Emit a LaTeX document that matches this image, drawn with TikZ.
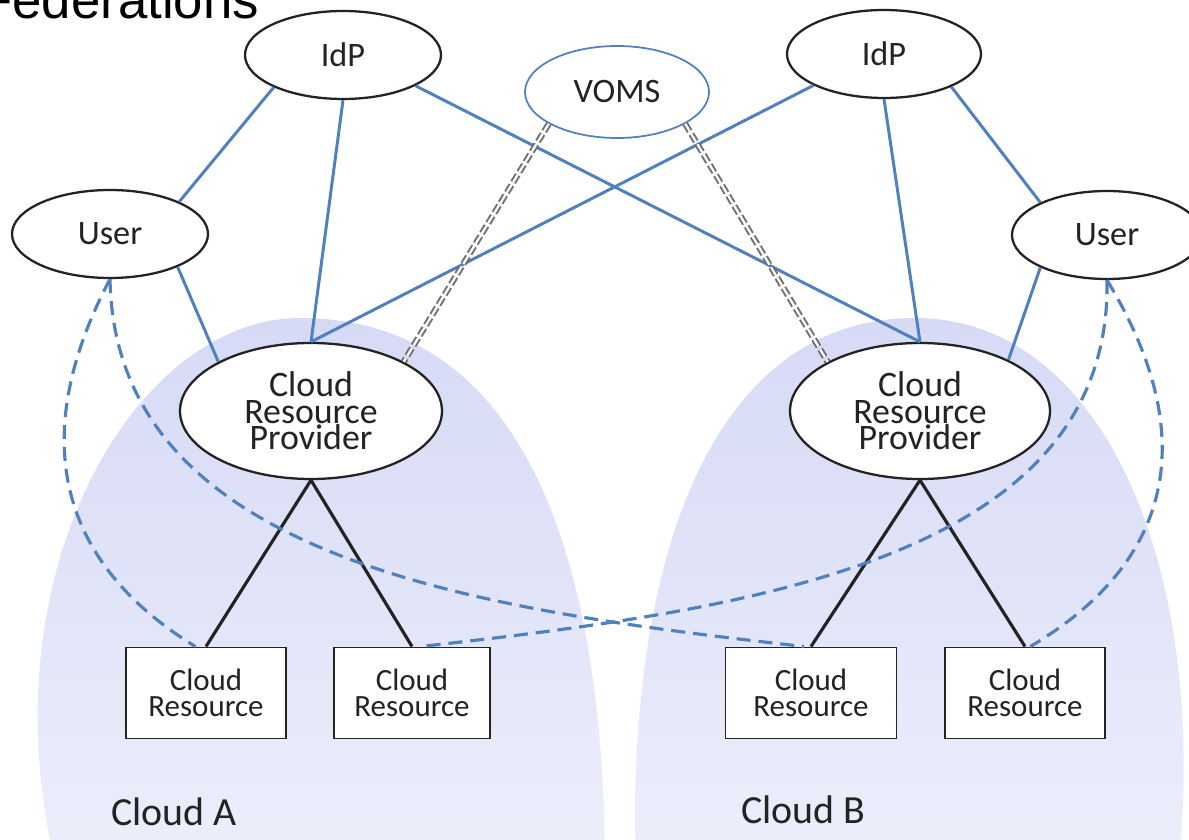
\documentclass[tikz,border=0pt]{standalone}
\usepackage{xcolor}
\usepackage{fontspec}
\setmainfont{Carlito}
\newfontfamily\titlefont{Liberation Sans}
\definecolor{Ink}{RGB}{35,35,35}
\definecolor{Steel}{RGB}{79,129,189}
\definecolor{Slate}{RGB}{110,110,110}
\definecolor{CloudTop}{RGB}{214,218,245}
\definecolor{CloudBottom}{RGB}{236,238,251}
\definecolor{White}{RGB}{255,255,255}
\usepackage{tikz}
\usetikzlibrary{shapes.geometric}

\tikzset{
	oval/.style={ellipse, draw=Ink, line width=1.3pt, fill=White, inner sep=0pt, text=Ink,
		minimum width=39.2mm, minimum height=17.6mm, font=\fontsize{19.5}{20}\selectfont},
	provider/.style={oval, minimum width=52.4mm, minimum height=27.2mm, align=center,
		font=\fontsize{20.4}{15}\selectfont},
	resbox/.style={rectangle, draw=Ink, line width=1.1pt, fill=White, inner sep=0pt, text=Ink,
		minimum width=32mm, minimum height=18.2mm, align=center, font=\fontsize{17.6}{15}\selectfont},
	fedline/.style={draw=Steel, line width=1.7pt},
	vomsline/.style={draw=Slate, double=White, double distance=1.3pt, line width=1.1pt, dash pattern=on 5pt off 1.8pt},
	treeline/.style={draw=Ink, line width=1.8pt},
	accline/.style={draw=Steel, line width=1.8pt, dash pattern=on 8pt off 4.5pt},
}

\begin{document}
\begin{tikzpicture}[x=0.2mm, y=-0.2mm]

		\useasboundingbox (0,0) rectangle (1189,840);
		\clip (0,0) rectangle (1189,840);

		% Clouds
		\shade[top color=CloudTop, bottom color=CloudBottom] (52,850) .. controls (-10,560) and (140,318) .. (300,318) .. controls (495,318) and (600,500) .. (605,850) -- cycle;
		\shade[top color=CloudTop, bottom color=CloudBottom] (635,850) .. controls (630,520) and (730,318) .. (915,318) .. controls (1100,318) and (1205,560) .. (1180,850) -- cycle;

		% Title
		\node[anchor=base west, inner sep=0pt, font=\titlefont\fontsize{30}{30}\selectfont] (title) at (-20,19) {Federations};

		% Identity side
		\node[oval] (idpA) at (343,55) {IdP};
		\node[oval, minimum width=38.8mm] (idpB) at (884,54) {IdP};
		\node[oval, draw=Steel, line width=1pt, minimum width=36.8mm, minimum height=18.4mm] (voms) at (617,92) {VOMS};
		\node[oval] (userA) at (110,234) {User};
		\node[oval, minimum width=38mm] (userB) at (1107,235) {User};

		% Providers
		\node[provider] (crpA) at (311,411) {Cloud\\Resource\\Provider};
		\node[provider, minimum width=52mm] (crpB) at (920,411) {Cloud\\Resource\\Provider};

		% Resources
		\node[resbox] (resA1) at (206,693) {Cloud\\Resource};
		\node[resbox, minimum width=31.2mm] (resA2) at (412,693) {Cloud\\Resource};
		\node[resbox, minimum width=34.2mm] (resB1) at (811,693) {Cloud\\Resource};
		\node[resbox] (resB2) at (1025,693) {Cloud\\Resource};

		% Cloud names
		\node[anchor=base west, inner sep=0pt, text=Ink, font=\fontsize{22.7}{23}\selectfont] (nameA) at (111,825) {Cloud A};
		\node[anchor=base west, inner sep=0pt, text=Ink, font=\fontsize{22.7}{23}\selectfont] (nameB) at (741,823) {Cloud B};

		% Lines
		\draw[fedline] (idpA.205) -- (userA.25);
		\draw[fedline] (idpA.south) -- (crpA.north);
		\draw[fedline] (idpA.-23) -- (crpB.north);
		\draw[fedline] (idpB.204) -- (crpA.north);
		\draw[fedline] (idpB.south) -- (crpB.north);
		\draw[fedline] (idpB.-26) -- (userB.154);
		\draw[fedline] (userA.-26) -- (crpA.152);
		\draw[fedline] (userB.206) -- (crpB.30);

		\draw[vomsline] (voms.205) -- (crpA.28);
		\draw[vomsline] (voms.-25) -- (crpB.152);

		\draw[treeline] (crpA.south) -- (resA1.north);
		\draw[treeline] (crpA.south) -- (resA2.north);
		\draw[treeline] (crpB.south) -- (resB1.north);
		\draw[treeline] (crpB.south) -- (resB2.north);

		% Access
		\draw[accline] (userA.south) .. controls (20,450) and (70,570) .. ([xshift=-6pt]resA1.north);
		\draw[accline] (userA.south) .. controls (115,560) and (480,610) .. ([xshift=-4pt]resB1.north);
		\draw[accline] (userB.south) .. controls (1112,560) and (747,610) .. ([xshift=5pt]resA2.north);
		\draw[accline] (userB.south) .. controls (1210,450) and (1160,570) .. ([xshift=3pt]resB2.north);

	\end{tikzpicture}
\end{document}
